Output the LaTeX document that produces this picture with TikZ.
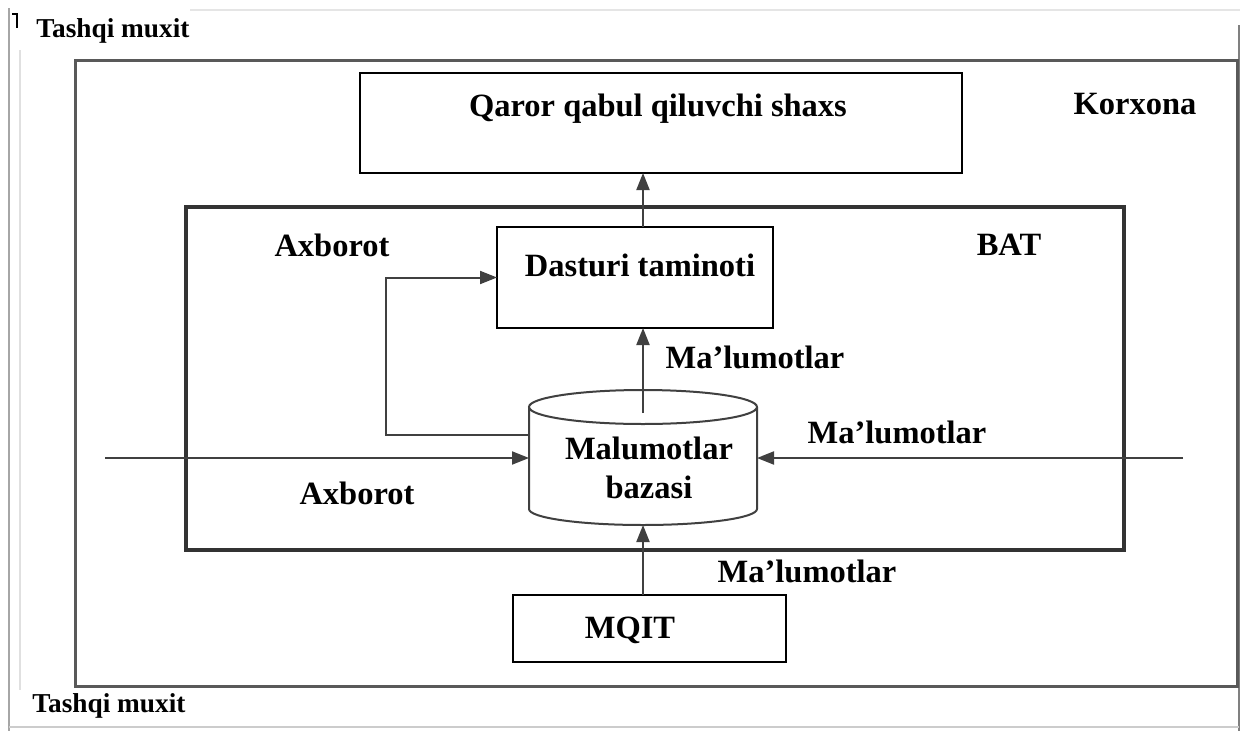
\documentclass[tikz,border=0pt]{standalone}
\usepackage{fontspec}
\setmainfont{Liberation Serif}
\usetikzlibrary{arrows.meta}
\tikzset{
  big/.style={font=\fontsize{32.5}{38}\selectfont\bfseries, inner sep=0pt},
  small/.style={font=\fontsize{27.3}{31}\selectfont\bfseries, inner sep=0pt},
  frameA/.style={draw=black!65, line width=3pt, inner sep=0pt, outer sep=0pt},
  frameB/.style={draw=black!80, line width=3.5pt, inner sep=0pt, outer sep=0pt},
  boxstyle/.style={draw=black, line width=2pt, inner sep=0pt, outer sep=0pt},
  arr/.style={draw=black!75, line width=2pt, -{Triangle[length=17pt,width=13pt]}},
  cyl/.style={draw=black!75, line width=2pt},
  scr/.style={line width=2.5pt}
}
\begin{document}
\begin{tikzpicture}[x=1pt,y=-1pt]
\useasboundingbox (0,0) rectangle (1247,731);
\fill[white] (0,0) rectangle (1247,731);
% screenshot frame
\draw[scr, black!35] (9,8) -- (9,731);
\draw[line width=2pt, black!12] (20,50) -- (20,690);
\draw[line width=1.5pt, black!10] (190,10) -- (1240,10);
\draw[scr, black!50] (1239,25) -- (1239,731);
\draw[line width=2pt, black!20] (9,727) -- (1239,727);
\draw[line width=1.5pt] (12,14) -- (17,14) -- (17,28);
% frames
\node[frameA, minimum width=1162pt, minimum height=626pt] (korx) at (656,373) {};
\node[frameB, minimum width=938pt, minimum height=343pt] (bat) at (655,378.5) {};
% boxes
\node[boxstyle, minimum width=602pt, minimum height=100pt] (qaror) at (661,123) {};
\node[big] (qarort) at (658,109) {Qaror qabul qiluvchi shaxs};
\node[boxstyle, minimum width=276pt, minimum height=101pt] (dast) at (635,277.5) {};
\node[big] (dastt) at (640,265) {Dasturi taminoti};
\node[boxstyle, minimum width=273pt, minimum height=67pt] (mqit) at (649.5,628.5) {};
\node[big] (mqitt) at (630,630) {MQIT};
% cylinder
\fill[white] (529,407) -- (529,509) arc[start angle=180,end angle=360,x radius=114pt,y radius=16pt] -- (757,407) -- cycle;
\draw[cyl] (529,407) -- (529,509) arc[start angle=180,end angle=360,x radius=114pt,y radius=16pt] -- (757,407);
\draw[cyl] (643,407) ellipse [x radius=114pt, y radius=17pt];
\node[minimum width=228pt, minimum height=118pt, inner sep=0pt, outer sep=0pt] (db) at (643,466) {};
\node[big, align=center] (dbt) at (649,468) {Malumotlar\\[1pt]bazasi};
% connectors
\draw[arr] (dast.north -| db.center) -- (qaror.south -| db.center);
\draw[arr] ([yshift=-6pt]db.north) -- (dast.south -| db.north);
\draw[arr] ([yshift=31pt]db.west) -- ++(-143,0) |- (dast.west);
\coordinate (lin) at (105,458);
\coordinate (rin) at (1183,458);
\draw[arr] (lin) -- ([yshift=8pt]db.west);
\draw[arr] (rin) -- ([yshift=8pt]db.east);
\draw[arr] (mqit.north -| db.center) -- (db.south);
% labels
\node[small] (tm1) at (113,31) {Tashqi muxit};
\node[small] (tm2) at (109,706) {Tashqi muxit};
\node[big] (korxt) at (1135,104) {Korxona};
\node[big] (ax1) at (332,245) {Axborot};
\node[big] (batt) at (1009,245) {BAT};
\node[big] (ml1) at (755,357) {Ma’lumotlar};
\node[big] (ml2) at (897,432) {Ma’lumotlar};
\node[big] (ax2) at (357,493) {Axborot};
\node[big] (ml3) at (807,571) {Ma’lumotlar};
\end{tikzpicture}
\end{document}
